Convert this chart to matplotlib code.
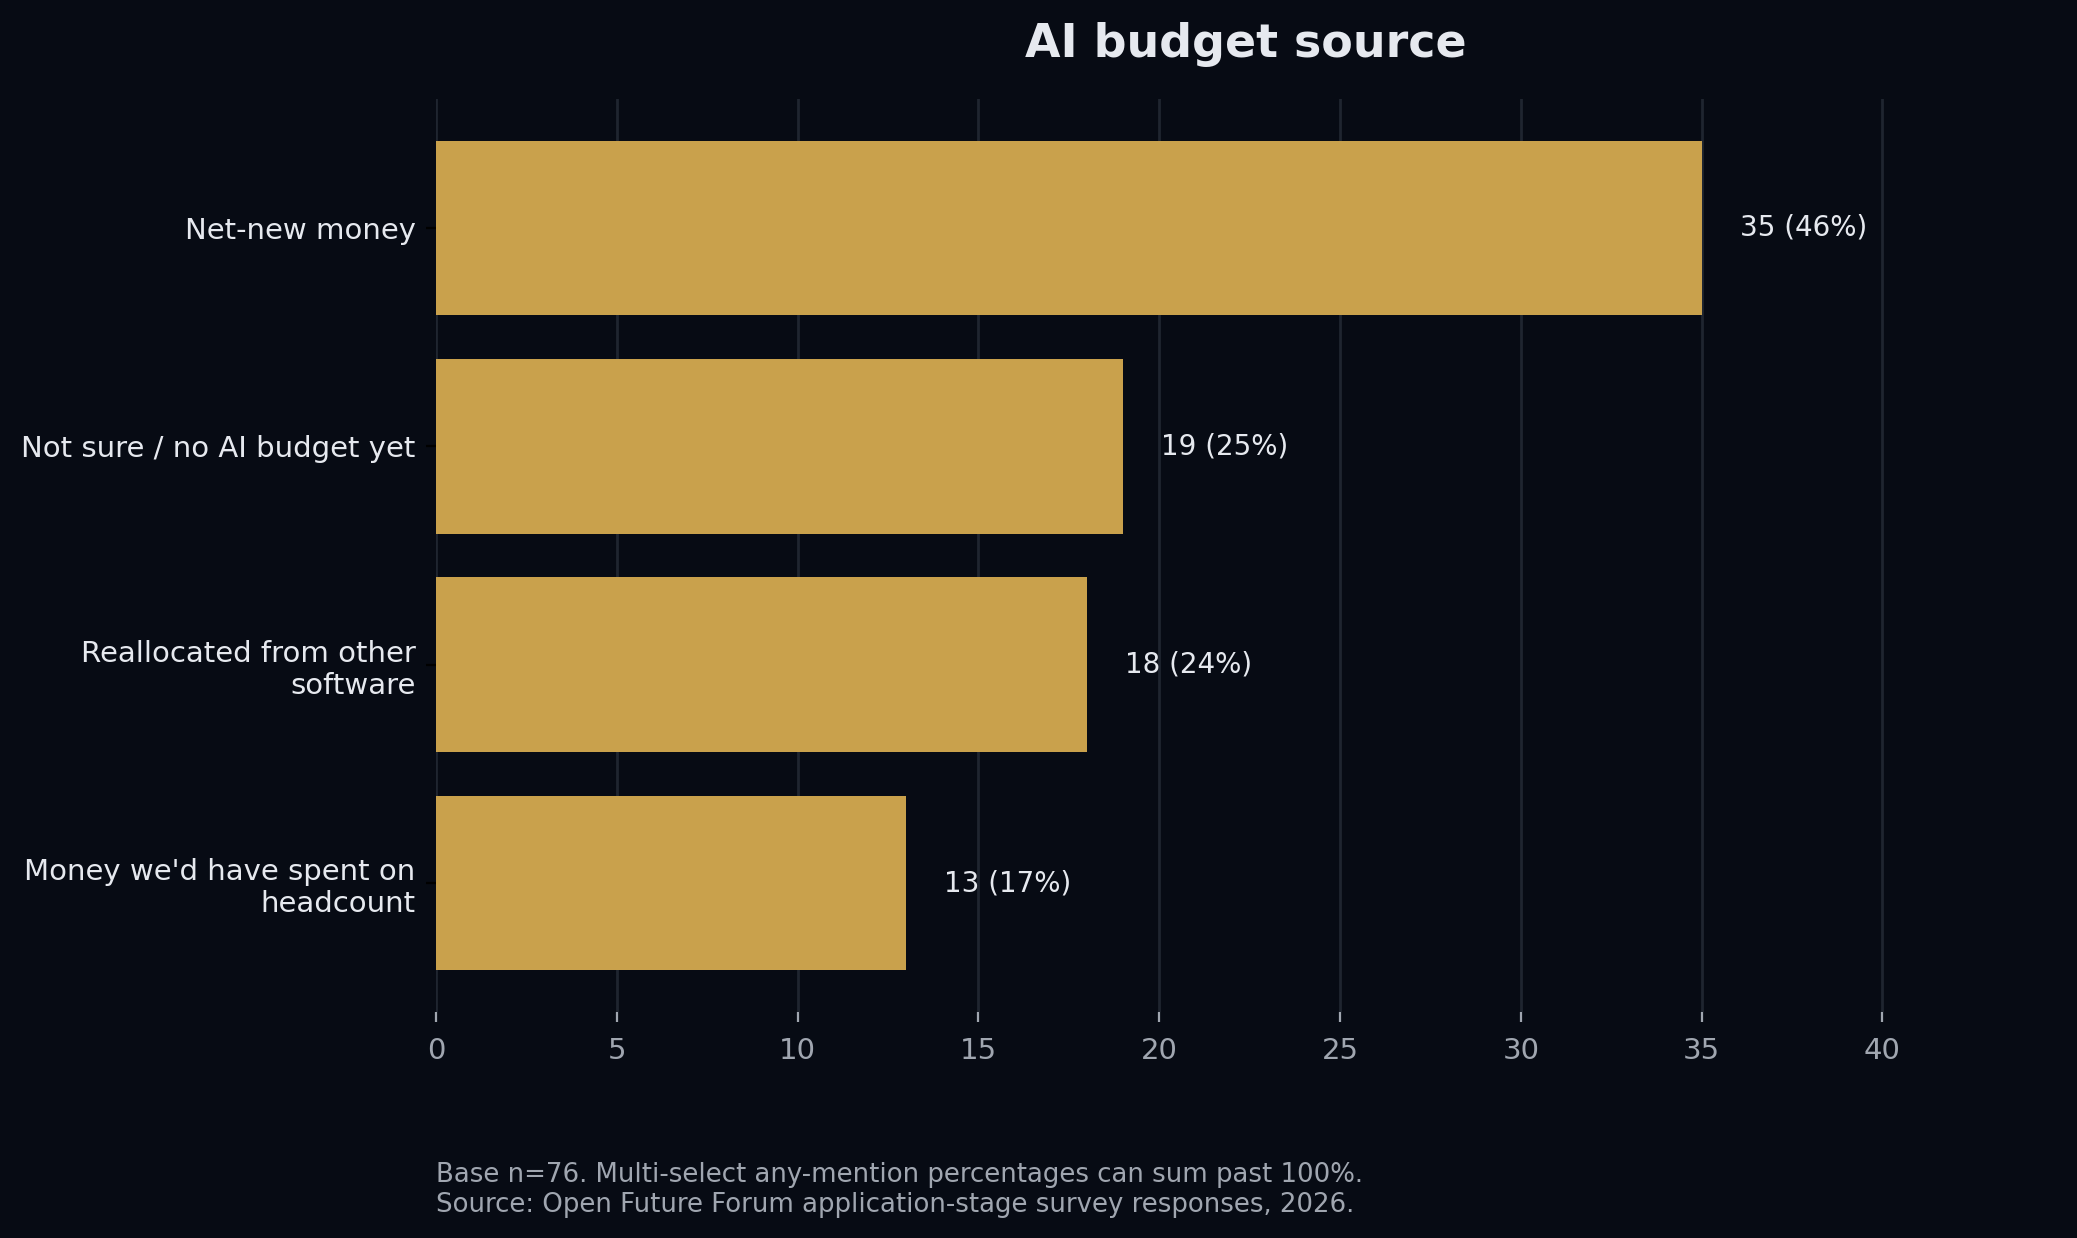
import numpy as np
import matplotlib
matplotlib.use('Agg')
import matplotlib.pyplot as plt

BG = '#070b14'
BAR = '#c9a14c'
TEXT = '#e6e9ef'
MUTED = '#a0a6b0'
GRID = '#1f2530'

categories = ['Net-new money', 'Not sure / no AI budget yet',
              'Reallocated from other\nsoftware', "Money we'd have spent on\nheadcount"]
counts = [35, 19, 18, 13]
pcts = [46, 25, 24, 17]
xticks = [0, 5, 10, 15, 20, 25, 30, 35, 40]

fig = plt.figure(figsize=(2077 / 200, 1238 / 200), dpi=200, facecolor=BG)
ax = fig.add_axes([0.2099, 0.1826, 0.78, 0.7374], facecolor=BG)

y = np.arange(len(categories))
ax.barh(y, counts, height=0.8, color=BAR, zorder=3)
ax.invert_yaxis()

xmax = max(counts) * 1.28
ax.set_xlim(0, xmax)
for yi, c, p in zip(y, counts, pcts):
    ax.text(c + max(counts) * 0.03, yi, f'{c} ({p}%)', ha='left', va='center',
            fontsize=10, color=TEXT, zorder=4)

ax.set_yticks(y)
ax.set_yticklabels(categories, fontsize=10.5, color=TEXT)
ax.set_xticks(xticks)
ax.tick_params(axis='x', colors=MUTED, labelsize=10.5, pad=5.5)
ax.tick_params(axis='y', colors='#000000', labelcolor=TEXT, pad=3.8)
for s in ax.spines.values():
    s.set_visible(False)
ax.grid(axis='x', color=GRID, linewidth=1, zorder=0)
ax.set_axisbelow(True)

ax.set_title('AI budget source', fontsize=16.5, fontweight='bold', color=TEXT, pad=15)

fig.text(0.2099, 0.016,
         'Base n=76. Multi-select any-mention percentages can sum past 100%.\n'
         'Source: Open Future Forum application-stage survey responses, 2026.',
         ha='left', va='bottom', fontsize=9.35, color=MUTED, linespacing=1.2)

fig.savefig('out.png', dpi=200, facecolor=BG)
